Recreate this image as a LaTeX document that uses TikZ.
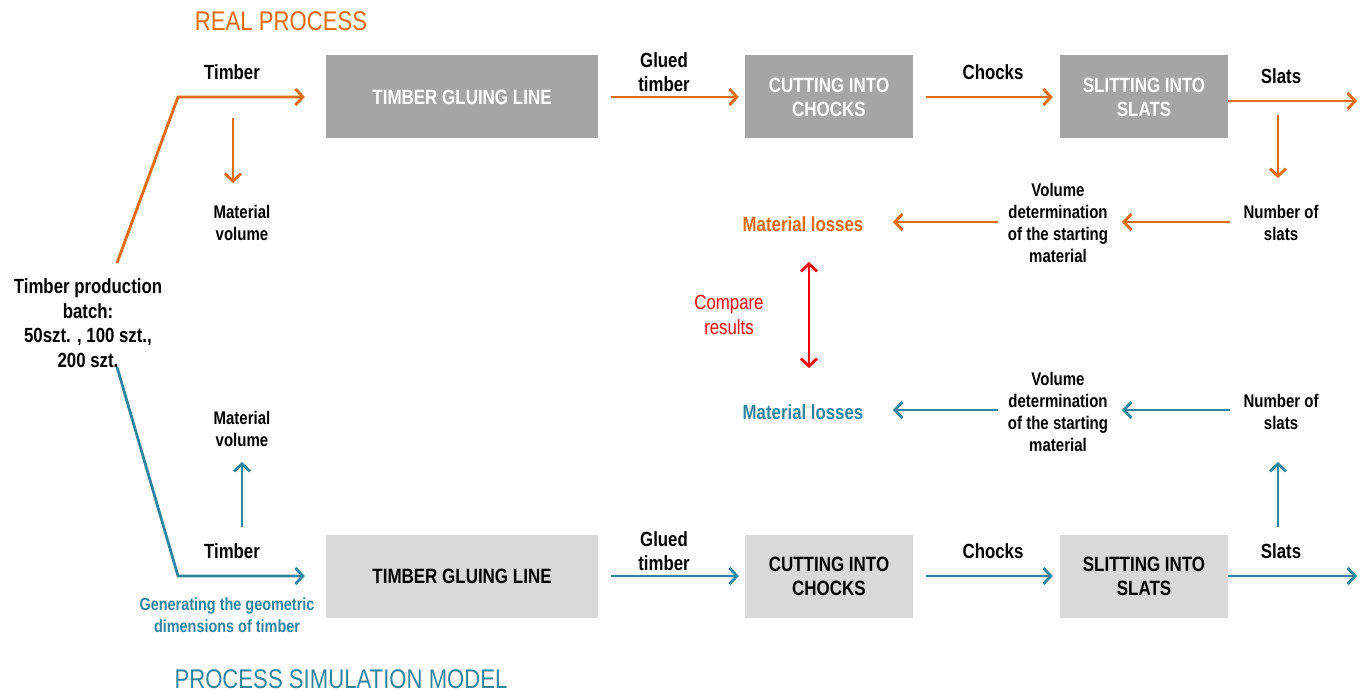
\documentclass[tikz,border=0pt]{standalone}
\usepackage{fontspec}
\setmainfont{Liberation Sans}[FakeStretch=0.82]
\usetikzlibrary{arrows.meta}
\definecolor{orng}{HTML}{E46C0A}
\definecolor{tealc}{HTML}{31849B}
\definecolor{darkbox}{HTML}{A5A5A5}
\definecolor{lightbox}{HTML}{D9D9D9}
\definecolor{redc}{HTML}{FF0000}
\begin{document}
\begin{tikzpicture}[x=1pt,y=-1pt,
  >={Straight Barb[length=7.5pt,width=16pt,line width=2.8pt]},
  box/.style={minimum width=272pt,minimum height=83pt,inner sep=0pt,align=center,font=\bfseries\fontsize{20.7}{24}\selectfont},
  sbox/.style={box,minimum width=168pt},
  rbox/.style={fill=darkbox,text=white},
  mbox/.style={fill=lightbox,text=black},
  lbl/.style={align=center,inner sep=1pt,font=\bfseries\fontsize{20.5}{24.5}\selectfont},
  slbl/.style={align=center,inner sep=1pt,font=\bfseries\fontsize{18.3}{21.7}\selectfont},
  conn/.style={line width=2.8pt,->},
  oc/.style={conn,draw=orng},
  tc/.style={conn,draw=tealc},
]
\useasboundingbox (0,0) rectangle (1364,692);
% titles
\node[text=orng,font=\fontsize{27}{30}\selectfont] (t1) at (281,21) {REAL PROCESS};
\node[text=tealc,font=\fontsize{27}{30}\selectfont] (t2) at (341,679) {PROCESS SIMULATION MODEL};
% batch
\node[lbl] (batch) at (88,323) {Timber production\\batch:\\50szt. , 100 szt.,\\200 szt.};
% top boxes
\node[box,rbox] (rb1) at (462,97) {TIMBER GLUING LINE};
\node[sbox,rbox] (rb2) at (829,97) {CUTTING INTO\\CHOCKS};
\node[sbox,rbox] (rb3) at (1144,97) {SLITTING INTO\\SLATS};
% bottom boxes
\node[box,mbox] (mb1) at (462,576) {TIMBER GLUING LINE};
\node[sbox,mbox] (mb2) at (829,576) {CUTTING INTO\\CHOCKS};
\node[sbox,mbox] (mb3) at (1144,576) {SLITTING INTO\\SLATS};
% labels top
\node[lbl] (rtim) at (232,72) {Timber};
\node[lbl] (rglu) at (664,72) {Glued\\timber};
\node[lbl] (rcho) at (993,72) {Chocks};
\node[lbl] (rsla) at (1281,76) {Slats};
\node[slbl] (rmv) at (242,223) {Material\\volume};
\node[slbl] (rnum) at (1281,223) {Number of\\slats};
\node[slbl] (rvol) at (1058,223) {Volume\\determination\\of the starting\\material};
\node[lbl,text=orng] (rloss) at (803,224) {Material losses};
% labels bottom
\node[lbl] (mtim) at (232,551) {Timber};
\node[lbl] (mglu) at (664,551) {Glued\\timber};
\node[lbl] (mcho) at (993,551) {Chocks};
\node[lbl] (msla) at (1281,551) {Slats};
\node[slbl] (mmv) at (242,429) {Material\\volume};
\node[slbl] (mnum) at (1281,412) {Number of\\slats};
\node[slbl] (mvol) at (1058,412) {Volume\\determination\\of the starting\\material};
\node[lbl,text=tealc] (mloss) at (803,412) {Material losses};
\node[slbl,text=tealc,font=\bfseries\fontsize{17.6}{21.7}\selectfont] (gen) at (227,615) {Generating the geometric\\dimensions of timber};
\node[align=center,text=redc,font=\fontsize{20.5}{24.5}\selectfont] (cmp) at (729,315) {Compare\\results};
% coordinates
\coordinate (bs1) at (117,263);
\coordinate (bc1) at (178,97);
\coordinate (bs2) at (117,367);
\coordinate (bc2) at (178,576);
\coordinate (rd1) at (233,118);
\coordinate (rd2) at (233,183);
\coordinate (md1) at (242,527);
\coordinate (md2) at (242,462);
\coordinate (rs1) at (1228,101);
\coordinate (rs2) at (1357,101);
\coordinate (ms1) at (1228,576);
\coordinate (ms2) at (1357,576);
\coordinate (rn1) at (1278,115);
\coordinate (rn2) at (1278,178);
\coordinate (mn1) at (1278,527);
\coordinate (mn2) at (1278,462);
\coordinate (rl1) at (1230,222);
\coordinate (rl2) at (1122,222);
\coordinate (rl3) at (998,222);
\coordinate (rl4) at (893,222);
\coordinate (ml1) at (1230,410);
\coordinate (ml2) at (1122,410);
\coordinate (ml3) at (998,410);
\coordinate (ml4) at (893,410);
\coordinate (cp1) at (809,262);
\coordinate (cp2) at (809,368);
% orange connectors
\draw[oc] (bs1) -- (bc1) -- ([xshift=-21pt]rb1.west);
\draw[oc] (rd1) -- (rd2);
\draw[oc,shorten <=13pt,shorten >=6pt] (rb1) -- (rb2);
\draw[oc,shorten <=13pt,shorten >=7pt] (rb2) -- (rb3);
\draw[oc] (rs1) -- (rs2);
\draw[oc] (rn1) -- (rn2);
\draw[oc] (rl1) -- (rl2);
\draw[oc] (rl3) -- (rl4);
% teal connectors
\draw[tc] (bs2) -- (bc2) -- ([xshift=-21pt]mb1.west);
\draw[tc] (md1) -- (md2);
\draw[tc,shorten <=13pt,shorten >=6pt] (mb1) -- (mb2);
\draw[tc,shorten <=13pt,shorten >=7pt] (mb2) -- (mb3);
\draw[tc] (ms1) -- (ms2);
\draw[tc] (mn1) -- (mn2);
\draw[tc] (ml1) -- (ml2);
\draw[tc] (ml3) -- (ml4);
% compare
\draw[line width=2.8pt,draw=redc,<->] (cp1) -- (cp2);
\end{tikzpicture}
\end{document}
